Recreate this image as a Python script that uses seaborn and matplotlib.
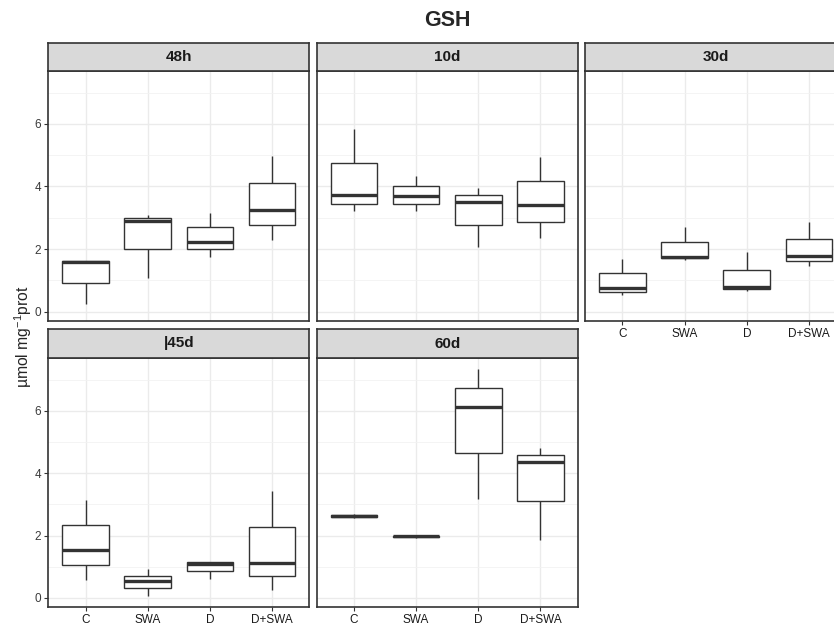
import numpy as np
import pandas as pd
import matplotlib
matplotlib.use("Agg")
import matplotlib.pyplot as plt
import seaborn as sns

# ---- data: five-number summaries per panel/treatment (min, q1, median, q3, max)
panels = ["48h", "10d", "30d", "|45d", "60d"]
treatments = ["C", "SWA", "D", "D+SWA"]
y_ticks = [0, 2, 4, 6]

h48_C = [0.25, 0.93, 1.60, 1.63, 1.63]
h48_SWA = [1.07, 2.00, 2.91, 3.00, 3.09]
h48_D = [1.76, 2.00, 2.23, 2.69, 3.15]
h48_DSWA = [2.29, 2.77, 3.25, 4.10, 4.96]

d10_C = [3.20, 3.44, 3.72, 4.76, 5.83]
d10_SWA = [3.20, 3.44, 3.71, 4.02, 4.32]
d10_D = [2.05, 2.76, 3.51, 3.74, 3.95]
d10_DSWA = [2.34, 2.87, 3.40, 4.16, 4.94]

d30_C = [0.53, 0.63, 0.77, 1.22, 1.67]
d30_SWA = [1.66, 1.70, 1.76, 2.24, 2.69]
d30_D = [0.66, 0.72, 0.78, 1.33, 1.89]
d30_DSWA = [1.46, 1.61, 1.77, 2.31, 2.86]

d45_C = [0.58, 1.05, 1.55, 2.33, 3.13]
d45_SWA = [0.06, 0.32, 0.54, 0.71, 0.94]
d45_D = [0.62, 0.86, 1.10, 1.15, 1.15]
d45_DSWA = [0.26, 0.69, 1.12, 2.28, 3.44]

d60_C = [2.56, 2.59, 2.63, 2.66, 2.68]
d60_SWA = [1.93, 1.96, 1.98, 2.00, 2.02]
d60_D = [3.18, 4.65, 6.12, 6.74, 7.35]
d60_DSWA = [1.85, 3.10, 4.37, 4.57, 4.80]

panel_data = {
    "48h": [h48_C, h48_SWA, h48_D, h48_DSWA],
    "10d": [d10_C, d10_SWA, d10_D, d10_DSWA],
    "30d": [d30_C, d30_SWA, d30_D, d30_DSWA],
    "|45d": [d45_C, d45_SWA, d45_D, d45_DSWA],
    "60d": [d60_C, d60_SWA, d60_D, d60_DSWA],
}

rows = []
for p in panels:
    for t, vals in zip(treatments, panel_data[p]):
        for v in vals:
            rows.append({"panel": p, "treatment": t, "value": v})
df = pd.DataFrame(rows)

# ---- style
sns.set_theme(style="white")
plt.rcParams["font.family"] = ["Liberation Sans", "DejaVu Sans"]
plt.rcParams["mathtext.fontset"] = "custom"
plt.rcParams["mathtext.rm"] = "Liberation Sans"
plt.rcParams["mathtext.it"] = "Liberation Sans:italic"

W, H = 834, 628
fig = plt.figure(figsize=(W / 100, H / 100), dpi=100)

def fx(px):
    return px / W

def fy(py):
    return 1 - py / H

col_left = [48.3, 316.7, 585.2]
pw = 261.0
rows_px = [(43.0, 70.7, 321.0), (329.3, 357.7, 607.3)]  # strip top, panel top, panel bottom
layout = {"48h": (0, 0), "10d": (0, 1), "30d": (0, 2), "|45d": (1, 0), "60d": (1, 1)}
dark = "#333333"

for p in panels:
    r, c = layout[p]
    st, pt, pb = rows_px[r]
    x0 = col_left[c]
    ax = fig.add_axes([fx(x0), fy(pb), fx(pw), (pb - pt) / H])
    sub = df[df["panel"] == p]
    sns.boxplot(data=sub, x="treatment", y="value", order=treatments, ax=ax,
                color="white", linecolor=dark, linewidth=1.0, width=0.75,
                whis=(0, 100), showcaps=False, fill=True,
                boxprops={"facecolor": "white", "edgecolor": dark},
                medianprops={"linewidth": 2.4, "color": dark},
                whiskerprops={"linewidth": 1.0, "color": dark})
    ax.set_xlim(-0.6, 3.6)
    ax.set_ylim(-0.3, 7.7)
    ax.set_yticks(y_ticks)
    ax.set_yticks([1, 3, 5, 7], minor=True)
    ax.grid(True, which="major", color="#EBEBEB", linewidth=1.0, zorder=0)
    ax.grid(True, which="minor", axis="y", color="#F2F2F2", linewidth=0.6, zorder=0)
    ax.set_axisbelow(True)
    for s in ax.spines.values():
        s.set_color(dark)
        s.set_linewidth(1.2)
    ax.set_xlabel("")
    ax.set_ylabel("")
    show_y = c == 0
    show_x = (r == 1) or (p == "30d")
    ax.tick_params(axis="y", which="major", left=show_y, labelleft=show_y,
                   length=3, width=0.8, color=dark, labelsize=8.5, labelcolor="#3A3A3A", pad=2)
    ax.tick_params(axis="y", which="minor", left=False)
    ax.tick_params(axis="x", bottom=show_x, labelbottom=show_x,
                   length=3, width=0.8, color=dark, labelsize=8.5, labelcolor="#1A1A1A", pad=2)
    # strip
    sax = fig.add_axes([fx(x0), fy(pt), fx(pw), (pt - st) / H])
    sax.set_facecolor("#D9D9D9")
    sax.set_xticks([])
    sax.set_yticks([])
    for s in sax.spines.values():
        s.set_color(dark)
        s.set_linewidth(1.2)
    sax.text(0.5, 0.5, p, ha="center", va="center", fontsize=11, fontweight="bold",
             color="#1A1A1A", transform=sax.transAxes)

fig.text(fx(447), fy(21), "GSH", ha="center", va="center", fontsize=15.5, fontweight="bold")
fig.text(fx(23), fy(337), r"µmol mg$^{-1}$prot", ha="center", va="center",
         rotation=90, fontsize=11.3)

fig.savefig("out.png", dpi=100)
